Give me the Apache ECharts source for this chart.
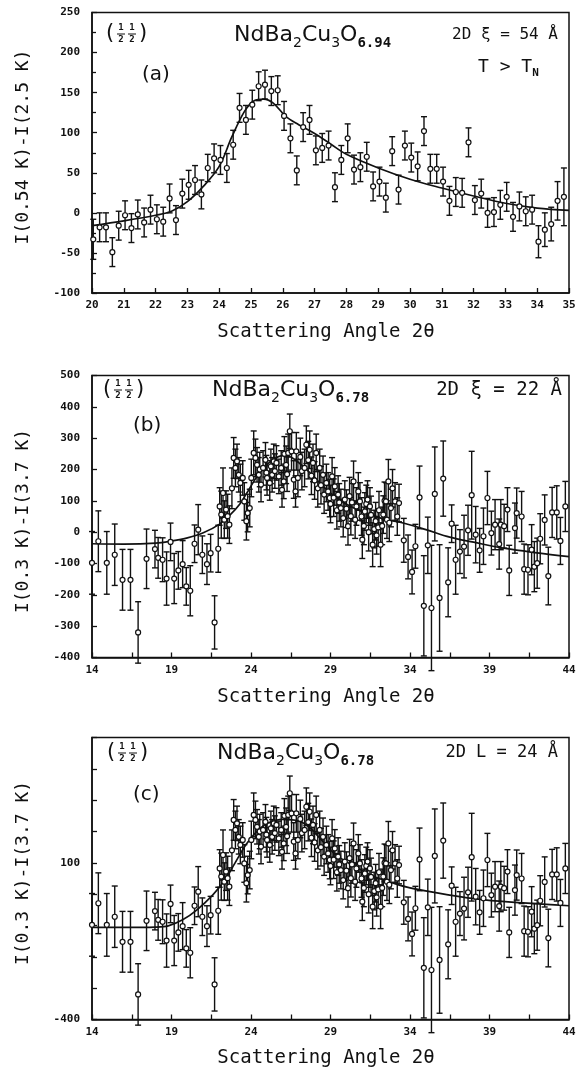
<!DOCTYPE html>
<html>
<head>
<meta charset="utf-8">
<script src="https://cdn.jsdelivr.net/npm/echarts@6/dist/echarts.min.js"></script>
<style>
html,body{margin:0;padding:0;background:#fff;}
#chart{width:588px;height:1069px;}
</style>
</head>
<body>
<div id="chart"></div>
<script>
// ---------- Panel (a): NdBa2Cu3O6.94 ----------
const aX = [20.04,20.24,20.44,20.64,20.84,21.04,21.24,21.44,21.64,21.84,22.04,22.24,22.44,22.64,22.84,23.04,23.24,23.44,23.64,23.84,24.04,24.24,24.44,24.64,24.84,25.04,25.24,25.44,25.64,25.84,26.04,26.24,26.44,26.64,26.84,27.04,27.24,27.44,27.64,27.84,28.04,28.24,28.44,28.64,28.84,29.04,29.24,29.44,29.64,29.84,30.04,30.24,30.44,30.64,30.84,31.04,31.24,31.44,31.64,31.84,32.04,32.24,32.44,32.64,32.84,33.04,33.24,33.44,33.64,33.84,34.04,34.24,34.44,34.64,34.84];
const aY = [-33,-18,-18,-49,-16,-3,-19,-2,-12,4,-8,-11,18,-9,24,35,41,23,56,68,66,56,85,131,116,135,158,160,152,153,121,93,53,107,116,78,81,84,32,66,93,54,57,70,33,39,19,77,29,84,69,58,102,55,55,39,15,26,25,88,16,24,0,1,10,20,-5,8,2,4,-36,-21,-14,15,20];
const aErr = [25,18,18,18,18,18,18,18,18,18,18,18,18,18,18,18,18,18,17,18,18,18,18,18,18,18,18,18,18,18,18,18,18,18,18,18,18,18,18,18,18,18,18,18,18,18,18,18,18,18,18,18,18,18,18,18,18,18,18,18,18,18,18,18,18,18,18,18,18,18,20,21,21,24,36];
const aFitX = [20,21,22,22.5,23,23.5,24,24.4,24.8,25.1,25.4,25.7,26.1,26.5,27,27.5,28,29,30,31,32,33,34,35];
const aFitY = [-16,-10,-3,2,14,33,58,95,127,140,142,137,120,110,99,86,73,56,42,31,21,12,6,3];

// ---------- Panels (b) and (c): NdBa2Cu3O6.78 (same data) ----------
const bX = [14.0,14.4,14.93,15.43,15.92,16.42,16.9,17.43,17.96,18.16,18.44,18.69,18.94,19.17,19.43,19.7,19.93,20.18,20.45,20.68,20.94,21.23,21.46,21.71,21.94,22.03,22.13,22.24,22.32,22.43,22.53,22.64,22.8,22.91,23.02,23.12,23.23,23.33,23.48,23.58,23.71,23.79,23.92,24.02,24.17,24.28,24.38,24.49,24.55,24.63,24.76,24.91,24.97,25.01,25.18,25.25,25.33,25.43,25.5,25.6,25.75,25.9,25.95,26.06,26.1,26.21,26.27,26.34,26.44,26.55,26.69,26.8,26.85,26.95,27.1,27.2,27.37,27.48,27.6,27.69,27.8,27.9,28.0,28.1,28.2,28.32,28.4,28.53,28.6,28.74,28.85,28.95,29.0,29.1,29.2,29.27,29.4,29.48,29.55,29.65,29.8,29.9,30.0,30.1,30.2,30.28,30.35,30.45,30.55,30.63,30.75,30.85,30.95,31.0,31.1,31.16,31.25,31.33,31.4,31.48,31.55,31.65,31.75,31.84,31.9,32.0,32.05,32.15,32.25,32.32,32.4,32.49,32.55,32.64,32.7,32.8,32.9,33.06,33.2,33.31,33.61,33.88,34.13,34.34,34.6,34.87,35.12,35.35,35.56,35.86,36.09,36.4,36.62,36.87,37.14,37.4,37.65,37.88,38.13,38.38,38.62,38.87,39.12,39.35,39.61,39.71,39.92,40.13,40.24,40.6,40.71,41.02,41.18,41.42,41.65,41.82,42.0,42.19,42.47,42.7,42.94,43.23,43.46,43.77];
const bY = [-98,-29,-98,-72,-152,-152,-320,-85,-54,-82,-88,-148,-31,-148,-122,-102,-173,-187,-37,8,-72,-102,-67,-288,-53,82,56,125,40,72,51,24,140,237,205,226,183,157,173,98,35,61,77,173,253,237,215,183,200,152,205,231,190,173,157,210,183,226,195,221,178,205,135,162,250,215,185,253,322,258,168,130,258,173,240,195,205,279,230,263,180,221,165,253,140,205,150,183,120,157,130,109,90,178,110,146,70,120,95,77,45,104,75,19,115,51,95,162,40,82,130,98,50,-24,20,66,90,104,0,82,55,-40,10,35,-10,15,70,-40,20,56,100,98,40,162,30,77,140,98,50,93,-26,-79,-127,-45,111,-235,-42,-242,122,-210,171,-160,27,-88,-62,-46,6,118,-8,-58,-13,109,-3,24,-38,24,19,72,-122,13,61,50,-118,-120,-56,-110,-99,-21,39,-140,63,63,-28,82];
const bErr = [100,97,100,98,97,97,98,95,60,65,70,85,60,80,60,75,60,80,60,80,60,65,60,85,75,60,75,80,60,60,70,60,65,65,60,55,55,60,55,60,60,60,60,60,70,60,55,55,55,55,55,55,55,55,55,55,55,55,55,55,55,55,55,55,55,60,55,60,55,60,60,50,60,60,60,60,60,60,60,60,60,60,60,60,60,60,60,60,60,60,60,60,60,60,60,60,60,60,60,60,60,60,60,60,60,60,60,65,60,60,60,60,60,60,60,60,60,60,60,60,60,70,60,60,60,60,60,70,60,60,60,60,60,70,60,60,60,60,60,60,70,70,70,70,100,160,90,200,150,170,120,110,60,110,70,100,80,140,90,70,90,85,70,80,80,80,70,70,80,80,80,80,80,80,80,80,80,80,80,92,80,85,75,80];
const bFitX = [14,16,18,19,20,21,22,22.7,23.3,23.8,24.3,24.8,25.4,26,26.5,27,27.7,28.5,29.5,30.5,31.5,32.5,33.5,35,36.5,38,40,42,44];
const bFitY = [-37,-38,-35,-28,-18,-2,25,56,90,130,172,205,232,244,240,222,190,148,105,76,56,40,30,8,-16,-32,-52,-66,-78];
const cFitX = [14,16,18,18.8,19.7,20.6,21.6,22.3,23,23.7,24.4,25.1,26,27,27.7,28.4,29.3,30.5,31.7,32.9,34,36.4,38.7,41.1,44];
const cFitY = [-106,-106,-105,-101,-82,-50,-2,41,100,159,202,228,239,234,212,175,127,89,57,36,20,-2,-18,-28,-37];
const cYLabels = [100, -400];

const INK = '#111';
const monoB = {fontFamily:'DejaVu Sans Mono', fontWeight:'bold', fontSize:11, color:INK};

function pts(xs, ys){ return xs.map((x,i)=>[x, ys[i]]); }
function errs(xs, ys, es){ return xs.map((x,i)=>[x, ys[i]-es[i], ys[i]+es[i]]); }

function errRender(params, api){
  const x = api.value(0);
  const p1 = api.coord([x, api.value(2)]);
  const p2 = api.coord([x, api.value(1)]);
  const c = 3;
  const st = {stroke: INK, lineWidth: 1.4};
  return {type:'group', children:[
    {type:'line', shape:{x1:p1[0], y1:p1[1], x2:p2[0], y2:p2[1]}, style:st},
    {type:'line', shape:{x1:p1[0]-c, y1:p1[1], x2:p1[0]+c, y2:p1[1]}, style:st},
    {type:'line', shape:{x1:p2[0]-c, y1:p2[1], x2:p2[0]+c, y2:p2[1]}, style:st}
  ]};
}

function seriesFor(idx, xs, ys, es, fx, fy){
  return [
    {type:'custom', xAxisIndex:idx, yAxisIndex:idx, renderItem:errRender, data:errs(xs,ys,es), encode:{x:0, y:[1,2]}, clip:false, z:2, silent:true},
    {type:'line', xAxisIndex:idx, yAxisIndex:idx, data:pts(fx,fy), smooth:0.35, showSymbol:false, lineStyle:{color:INK, width:1.7}, z:3, silent:true},
    {type:'scatter', xAxisIndex:idx, yAxisIndex:idx, data:pts(xs,ys), symbol:'circle', symbolSize:5, itemStyle:{color:'#fff', borderColor:INK, borderWidth:1.2, opacity:1}, z:4, silent:true}
  ];
}

function xAx(idx, min, max, interval, minorSplit){
  return {gridIndex:idx, type:'value', min:min, max:max, interval:interval,
    axisLine:{show:true, onZero:false, lineStyle:{color:INK, width:1.5}},
    axisTick:{show:true, inside:true, length:5, lineStyle:{color:INK, width:1.3}},
    minorTick:{show: !!minorSplit, splitNumber: minorSplit||5, length:5, lineStyle:{color:INK, width:1.3}},
    axisLabel:Object.assign({margin:7}, monoB),
    splitLine:{show:false}};
}
function yAx(idx, min, max, interval, minorSplit, formatter){
  const lab = Object.assign({margin:12}, monoB);
  if (formatter) lab.formatter = formatter;
  return {gridIndex:idx, type:'value', min:min, max:max, interval:interval,
    axisLine:{show:true, onZero:false, lineStyle:{color:INK, width:1.5}},
    axisTick:{show:true, inside:true, length:5, lineStyle:{color:INK, width:1.3}},
    minorTick:{show: !!minorSplit, splitNumber: minorSplit||5, length:4, lineStyle:{color:INK, width:1.3}},
    axisLabel:lab,
    splitLine:{show:false}};
}

const titleFont = {fontFamily:'DejaVu Sans Mono', fontSize:19, fill:INK};
function txt(x, y, text, font, align, extra){
  return Object.assign({type:'text', x:x, y:y, silent:true,
    style:Object.assign({text:text, fill:INK, align:align||'left', verticalAlign:'middle'}, font)}, extra||{});
}
function fracGroup(x, y){
  const small = {fontFamily:'DejaVu Sans Mono', fontWeight:'bold', fontSize:9};
  const paren = {fontFamily:'DejaVu Sans', fontSize:21};
  return [
    txt(x, y, '(', paren),
    txt(x+15, y-6, '1', small, 'center'),
    txt(x+15, y+6, '2', small, 'center'),
    {type:'line', silent:true, shape:{x1:x+11, y1:y, x2:x+19, y2:y}, style:{stroke:INK, lineWidth:1}},
    txt(x+26, y-6, '1', small, 'center'),
    txt(x+26, y+6, '2', small, 'center'),
    {type:'line', silent:true, shape:{x1:x+22, y1:y, x2:x+30, y2:y}, style:{stroke:INK, lineWidth:1}},
    txt(x+33, y, ')', paren)
  ];
}
function formula(x, y, sub){
  return {type:'text', x:x, y:y, silent:true, style:{
    text:'{m|NdBa}{s|2}{m|Cu}{s|3}{m|O}{t|' + sub + '}',
    verticalAlign:'middle', align:'left',
    rich:{
      m:{fontFamily:'DejaVu Sans', fontSize:22, lineHeight:31, fill:INK},
      s:{fontFamily:'DejaVu Sans', fontSize:14, lineHeight:14, verticalAlign:'bottom', fill:INK},
      t:{fontFamily:'DejaVu Sans Mono', fontWeight:'bold', fontSize:14, lineHeight:14, verticalAlign:'bottom', fill:INK}
    }}};
}

const graphics = [];
// Panel a annotations
graphics.push(...fracGroup(106, 34));
graphics.push(formula(234, 35, '6.94'));
graphics.push(txt(558, 35, '2D \u03be = 54 \u00c5', {fontFamily:'DejaVu Sans Mono', fontSize:16}, 'right'));
graphics.push({type:'text', x:478, y:67, silent:true, style:{text:'{m|T > T}{s|N}', verticalAlign:'middle', rich:{
  m:{fontFamily:'DejaVu Sans Mono', fontSize:18, lineHeight:24, fill:INK},
  s:{fontFamily:'DejaVu Sans Mono', fontWeight:'bold', fontSize:11, lineHeight:11, verticalAlign:'bottom', fill:INK}}}});
graphics.push(txt(142, 75, '(a)', {fontFamily:'DejaVu Sans', fontSize:20}));
// Panel b annotations
graphics.push(...fracGroup(103, 390));
graphics.push(formula(212, 390, '6.78'));
graphics.push(txt(562, 390, '2D \u03be = 22 \u00c5', {fontFamily:'DejaVu Sans Mono', fontSize:19}, 'right'));
graphics.push(txt(133, 426, '(b)', {fontFamily:'DejaVu Sans', fontSize:20}));
// Panel c annotations
graphics.push(...fracGroup(107, 753));
graphics.push(formula(217, 753, '6.78'));
graphics.push(txt(558, 753, '2D L = 24 \u00c5', {fontFamily:'DejaVu Sans Mono', fontSize:17}, 'right'));
graphics.push(txt(133, 795, '(c)', {fontFamily:'DejaVu Sans', fontSize:20}));
// Axis titles
[332, 697, 1058].forEach(y => graphics.push(txt(326, y, 'Scattering Angle 2\u03b8', titleFont, 'center')));
[[147,'I(0.54 K)-I(2.5 K)'],[521,'I(0.3 K)-I(3.7 K)'],[873,'I(0.3 K)-I(3.7 K)']].forEach(([y,t]) =>
  graphics.push(txt(23, y, t, {fontFamily:'DejaVu Sans Mono', fontSize:18}, 'center', {rotation:Math.PI/2})));

const chart = echarts.init(document.getElementById('chart'), null, {renderer:'canvas'});
chart.setOption({
  animation:false,
  backgroundColor:'#fff',
  grid:[
    {left:92, top:12.5, width:477, height:280.5, show:true, borderColor:INK, borderWidth:1.5},
    {left:92, top:375.5, width:477, height:282, show:true, borderColor:INK, borderWidth:1.5},
    {left:92, top:737.5, width:477, height:282, show:true, borderColor:INK, borderWidth:1.5}
  ],
  xAxis:[ xAx(0,20,35,1,0), xAx(1,14,44,5,2), xAx(2,14,44,5,2) ],
  yAxis:[ yAx(0,-100,250,50,2), yAx(1,-400,500,100,0),
          yAx(2,-400,500,100,0, v => cYLabels.indexOf(v) >= 0 ? String(v) : '') ],
  series:[
    ...seriesFor(0, aX, aY, aErr, aFitX, aFitY),
    ...seriesFor(1, bX, bY, bErr, bFitX, bFitY),
    ...seriesFor(2, bX, bY, bErr, cFitX, cFitY)
  ],
  graphic:graphics
});
</script>
</body>
</html>
